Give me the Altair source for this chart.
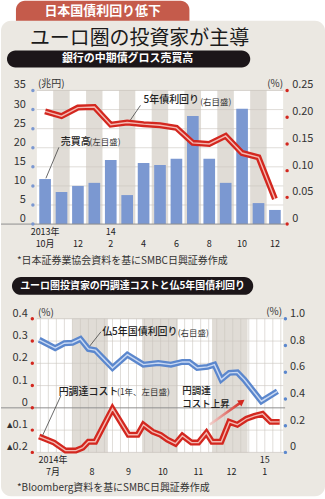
import altair as alt
import pandas as pd

# ---------------- chart 1: monthly, Oct 2013 - Dec 2014
month_idx = list(range(15))
gross_volume = [11.8, 8.4, 10.0, 10.8, 16.8, 7.6, 16.0, 15.5, 17.1, 28.3, 17.1, 10.8, 30.2, 5.5, 3.7]
jgb5_yield = [0.211, 0.202, 0.218, 0.219, 0.186, 0.190, 0.187, 0.185, 0.180, 0.152, 0.150, 0.165, 0.133, 0.125, 0.047]
x1_top = ["2013年", "", "", "", "14", "", "", "", "", "", "", "", "", "", ""]
x1_bottom = ["10月", "", "12", "", "2", "", "4", "", "6", "", "8", "", "10", "", "12"]
ticks1_left = [0, 5, 10, 15, 20, 25, 30, 35]
labels1_left = ["0", "5", "10", "15", "20", "25", "30", "35"]
ticks1_right = [0, 0.05, 0.10, 0.15, 0.20, 0.25]
labels1_right = ["0", "0.05", "0.10", "0.15", "0.20", "0.25"]

# ---------------- chart 2: Jul 2014 - Jan 2015
cost_dates = ["2014-07-03", "2014-07-16", "2014-07-26", "2014-08-04", "2014-08-10", "2014-08-15",
              "2014-08-21", "2014-09-05", "2014-09-19", "2014-09-27", "2014-10-02", "2014-10-10",
              "2014-10-17", "2014-10-23", "2014-10-30", "2014-11-05", "2014-11-13", "2014-11-19",
              "2014-11-26", "2014-12-01", "2014-12-09", "2014-12-16", "2014-12-23", "2014-12-31",
              "2015-01-07", "2015-01-14", "2015-01-21", "2015-01-29"]
yen_cost = [-0.129, -0.156, -0.192, -0.192, -0.179, -0.152, -0.152, -0.004, -0.121, -0.121,
            -0.076, -0.107, -0.121, -0.143, -0.161, -0.125, -0.156, -0.156, -0.112, -0.152,
            -0.152, -0.063, -0.076, -0.049, -0.036, -0.027, -0.063, -0.063]
oat_dates = ["2014-07-03", "2014-07-17", "2014-07-25", "2014-08-01", "2014-08-08", "2014-08-15",
             "2014-08-21", "2014-09-05", "2014-09-18", "2014-10-02", "2014-10-15", "2014-10-26",
             "2014-11-05", "2014-11-11", "2014-11-18", "2014-11-27", "2014-12-03", "2014-12-09",
             "2014-12-16", "2014-12-23", "2014-12-29", "2015-01-13", "2015-01-27"]
fr5_yield = [0.843, 0.781, 0.817, 0.821, 0.849, 0.774, 0.765, 0.632, 0.731, 0.657, 0.669, 0.657,
             0.677, 0.677, 0.632, 0.640, 0.657, 0.545, 0.595, 0.599, 0.545, 0.383, 0.457]
month_starts = ["2014-07-01", "2014-08-01", "2014-09-01", "2014-10-01", "2014-11-01", "2014-12-01", "2015-01-01"]
month_ends = ["2014-08-01", "2014-09-01", "2014-10-01", "2014-11-01", "2014-12-01", "2015-01-01", "2015-02-01"]
x2_dates = ["2014-07-15", "2014-08-18", "2014-09-19", "2014-10-19", "2014-11-19", "2014-12-18", "2015-01-16"]
x2_top = ["2014年", "", "", "", "", "", "15"]
x2_bottom = ["7月", "8", "9", "10", "11", "12", "1"]
ticks2_left = [-0.2, -0.1, 0, 0.1, 0.2, 0.3, 0.4]
labels2_left = ["▴0.2", "▴0.1", "0", "0.1", "0.2", "0.3", "0.4"]
ticks2_right = [0, 0.2, 0.4, 0.6, 0.8, 1.0]
labels2_right = ["0", "0.2", "0.4", "0.6", "0.8", "1.0"]

# ---------------- style
W, H1, H2, GAP = 247, 134, 134, 95
OX, OY = 36, 90
FONT = "Noto Sans CJK JP"
BEIGE = "#ebe8e2"
STRIPE = "#e0dcd6"
GRID = "#cbc6bf"
ZERO = "#8e8e8e"
BAR = "#7b98d1"
RED = "#d3271f"
PINK = "#f4b9b2"
BLUE = "#5b87cd"
LBLUE = "#c9d9f3"
TAB = "#c55b4b"
PILL = "#1c1619"
TXT = "#222222"

BLANK = alt.Axis(labels=False, ticks=False, domain=False, grid=False, title=None)

one = pd.DataFrame({"k": [0]})


def box(x, x2, y, y2, color, **kw):
    return alt.Chart(one).mark_rect(color=color, **kw).encode(
        x=alt.value(x), x2=alt.value(x2), y=alt.value(y), y2=alt.value(y2))


def label(txt, x, y, size, color=TXT, weight="normal", align="left"):
    return alt.Chart(one).mark_text(text=txt, font=FONT, fontSize=size, color=color,
                                    fontWeight=weight, align=align, baseline="middle").encode(
        x=alt.value(x), y=alt.value(y))


def yaxis(ticks, labels, xenc, lpos, dpos, yscale, align, dot):
    """tick labels and round tick dots drawn through the chart's own scales"""
    d = pd.DataFrame({"t": ticks, "s": labels, "lx": [lpos] * len(ticks), "dx": [dpos] * len(ticks)})
    txt = alt.Chart(d).mark_text(font=FONT, fontSize=11, color="#333", align=align,
                                 baseline="middle", dy=-5).encode(
        x=alt.X("lx:" + xenc[0], scale=xenc[1], axis=None),
        y=alt.Y("t:Q", scale=yscale, axis=None), text="s:N")
    dots = alt.Chart(d).mark_point(color=dot, size=12, filled=True, opacity=1).encode(
        x=alt.X("dx:" + xenc[0], scale=xenc[1], axis=None),
        y=alt.Y("t:Q", scale=yscale, axis=None))
    return [txt, dots]


def ax(v):
    return v - OX


def ay(v):
    return v - OY


# ---------------- chart 1
df1 = pd.DataFrame({"i": month_idx, "vol": gross_volume, "yld": jgb5_yield,
                    "top": x1_top, "bot": x1_bottom})
df1["i1"] = df1["i"] + 1
df1["b0"] = df1["i"] + 0.145
df1["b1"] = df1["i"] + 0.855
df1["m"] = df1["i"] + 0.5

xs1 = alt.Scale(domain=[0, 15], nice=False, zero=False)
yl1 = alt.Scale(domain=[0, 35], nice=False, zero=False)
yr1 = alt.Scale(domain=[0, 0.25], nice=False, zero=False)
X1 = ("Q", xs1)

deco = [
    box(ax(0), ax(325), ay(0), ay(499), "white"),
    box(ax(15), ax(189), ay(0), ay(30), TAB, cornerRadiusTopLeft=9, cornerRadiusTopRight=9),
    box(ax(0), ax(325), ay(20), ay(497), BEIGE, cornerRadius=10),
    label("日本国債利回り低下", ax(102), ay(10), 13, "white", "bold", "center"),
    label("ユーロ圏の投資家が主導", ax(29), ay(38), 20, "#1b1b1b"),
    box(ax(6), ax(250), ay(50), ay(67), PILL, cornerRadius=8.5),
    label("銀行の中期債グロス売買高", ax(127), ay(58.5), 11, "white", "bold", "center"),
    label("*日本証券業協会資料を基にSMBC日興証券作成", ax(16), ay(261), 10, "#333"),
    box(ax(11), ax(253), ay(277), ay(295), PILL, cornerRadius=9),
    label("ユーロ圏投資家の円調達コストと仏5年国債利回り", ax(132), ay(286), 10, "white", "bold", "center"),
    label("(兆円)", ax(37), ay(84), 10, "#333"),
    label("(%)", ax(283), ay(84), 10, "#333", align="right"),
]

stripes1 = alt.Chart(df1).mark_rect().encode(
    x=alt.X("i:Q", scale=xs1, axis=None), x2="i1:Q",
    y=alt.value(0), y2=alt.value(H1),
    color=alt.condition("datum.i % 2 == 0", alt.value("white"), alt.value(STRIPE)))
grid1 = alt.Chart(pd.DataFrame({"g": ticks1_left[1:]})).mark_rule(color=GRID, strokeWidth=0.6).encode(
    y=alt.Y("g:Q", scale=yl1, axis=BLANK))
bars1 = alt.Chart(df1).mark_rect(color=BAR).encode(
    x=alt.X("b0:Q", scale=xs1, axis=None), x2="b1:Q",
    y=alt.Y("vol:Q", scale=yl1, axis=BLANK), y2=alt.Y2Datum(0))
zero1 = alt.Chart(one).mark_rule(color=ZERO, strokeWidth=1).encode(
    y=alt.YDatum(0), x=alt.value(-OX), x2=alt.value(W + 2))

ann1_main = pd.DataFrame({"x": [6.50, 1.46], "y": [32.4, 21.5], "t": ["5年債利回り", "売買高"]})
ann1_sub = pd.DataFrame({"x": [9.95, 3.20], "y": [32.1, 21.4], "t": ["(右目盛)", "(左目盛)"]})
lead1 = pd.DataFrame({"x": [6.31, 1.34], "y": [31.1, 20.1], "x2": [5.59, 0.55], "y2": [26.6, 12.0]})

t1a = alt.Chart(ann1_main).mark_text(font=FONT, fontSize=10, fontWeight=500, color=TXT, align="left",
                                     baseline="middle").encode(
    x=alt.X("x:Q", scale=xs1, axis=None), y=alt.Y("y:Q", scale=yl1, axis=None), text="t:N")
t1b = alt.Chart(ann1_sub).mark_text(font=FONT, fontSize=8.5, color="#333", align="left",
                                    baseline="middle").encode(
    x=alt.X("x:Q", scale=xs1, axis=None), y=alt.Y("y:Q", scale=yl1, axis=None), text="t:N")
l1 = alt.Chart(lead1).mark_rule(color="#444", strokeWidth=0.8).encode(
    x=alt.X("x:Q", scale=xs1, axis=None), y=alt.Y("y:Q", scale=yl1, axis=None), x2="x2:Q", y2="y2:Q")
xl1a = alt.Chart(df1).mark_text(font=FONT, fontSize=9, color=TXT, baseline="middle").encode(
    x=alt.X("m:Q", scale=xs1, axis=None), y=alt.value(H1 + 8), text="top:N")
xl1b = alt.Chart(df1).mark_text(font=FONT, fontSize=9, color=TXT, baseline="middle").encode(
    x=alt.X("m:Q", scale=xs1, axis=None), y=alt.value(H1 + 19.5), text="bot:N")

line1o = alt.Chart(df1).mark_line(color=RED, strokeWidth=6).encode(
    x=alt.X("m:Q", scale=xs1, axis=None), y=alt.Y("yld:Q", scale=yr1, axis=BLANK))
line1i = alt.Chart(df1).mark_line(color=PINK, strokeWidth=1.4).encode(
    x=alt.X("m:Q", scale=xs1, axis=None), y=alt.Y("yld:Q", scale=yr1, axis=BLANK))

chart1 = alt.layer(
    *deco,
    alt.layer(grid1, stripes1, grid1, bars1, zero1, l1, t1a, t1b, xl1a, xl1b,
              *yaxis(ticks1_left, labels1_left, X1, -0.67, -0.243, yl1, "right", BAR)),
    alt.layer(line1o, line1i,
              *yaxis(ticks1_right, labels1_right, X1, 15.55, 15.243, yr1, "left", RED)),
).resolve_scale(y="independent").properties(width=W, height=H1)

# ---------------- chart 2
xs2 = alt.Scale(domain=[alt.DateTime(year=2014, month=7, date=1, utc=True),
                        alt.DateTime(year=2015, month=2, date=1, utc=True)], nice=False)
yl2 = alt.Scale(domain=[-0.2, 0.4], nice=False, zero=False)
yr2 = alt.Scale(domain=[0, 1.0], nice=False, zero=False)
X2 = ("T", xs2)

dm = pd.DataFrame({"s": month_starts, "e": month_ends, "p": [i % 2 for i in range(len(month_starts))]})
weeks = pd.DataFrame({"w": pd.date_range("2014-07-04", "2015-01-30", freq="7D").strftime("%Y-%m-%d")})
dc = pd.DataFrame({"d": cost_dates, "v": yen_cost})
do = pd.DataFrame({"d": oat_dates, "v": fr5_yield})
dx2 = pd.DataFrame({"d": x2_dates, "top": x2_top, "bot": x2_bottom})

stripes2 = alt.Chart(dm).mark_rect().encode(
    x=alt.X("s:T", scale=xs2, axis=None), x2="e:T", y=alt.value(0), y2=alt.value(H2),
    color=alt.condition("datum.p == 0", alt.value("white"), alt.value(STRIPE)))
wk2 = alt.Chart(weeks).mark_rule(color=GRID, strokeWidth=0.6).encode(
    x=alt.X("w:T", scale=xs2, axis=None))
grid2 = alt.Chart(pd.DataFrame({"g": [-0.2, -0.1, 0.1, 0.2, 0.3, 0.4]})).mark_rule(
    color=GRID, strokeWidth=0.6).encode(y=alt.Y("g:Q", scale=yl2, axis=BLANK))
zero2 = alt.Chart(one).mark_rule(color=ZERO, strokeWidth=1).encode(
    y=alt.YDatum(0), x=alt.value(-OX), x2=alt.value(W + 2))

cost_o = alt.Chart(dc).mark_line(color=RED, strokeWidth=6).encode(
    x=alt.X("d:T", scale=xs2, axis=None), y=alt.Y("v:Q", scale=yl2, axis=BLANK))
cost_i = alt.Chart(dc).mark_line(color=PINK, strokeWidth=1.4).encode(
    x=alt.X("d:T", scale=xs2, axis=None), y=alt.Y("v:Q", scale=yl2, axis=BLANK))

ann2_main = pd.DataFrame({"d": ["2014-08-27", "2014-07-20"], "v": [0.342, 0.073],
                          "t": ["仏5年国債利回り", "円調達コスト"]})
ann2_two = pd.DataFrame({"d": ["2014-11-05", "2014-11-05"], "v": [0.075, 0.019],
                         "t": ["円調達", "コスト上昇"]})
ann2_sub = pd.DataFrame({"d": ["2014-11-01", "2014-09-09"], "v": [0.337, 0.073],
                         "t": ["(右目盛)", "(1年、左目盛)"]})
lead2 = pd.DataFrame({"d": ["2014-08-26", "2014-07-22"], "v": [0.342, 0.055],
                      "d2": ["2014-08-15", "2014-07-06"], "v2": [0.270, -0.124]})
arrow = pd.DataFrame({"d": ["2014-11-29", "2014-12-27"], "v": [-0.075, 0.028]})

t2a = alt.Chart(ann2_main).mark_text(font=FONT, fontSize=10, fontWeight=500, color=TXT, align="left",
                                     baseline="middle").encode(
    x=alt.X("d:T", scale=xs2, axis=None), y=alt.Y("v:Q", scale=yl2, axis=None), text="t:N")
t2c = alt.Chart(ann2_two).mark_text(font=FONT, fontSize=9.5, fontWeight=500, color=TXT, align="left",
                                    baseline="middle").encode(
    x=alt.X("d:T", scale=xs2, axis=None), y=alt.Y("v:Q", scale=yl2, axis=None), text="t:N")
t2b = alt.Chart(ann2_sub).mark_text(font=FONT, fontSize=8.5, color="#333", align="left",
                                    baseline="middle").encode(
    x=alt.X("d:T", scale=xs2, axis=None), y=alt.Y("v:Q", scale=yl2, axis=None), text="t:N")
l2 = alt.Chart(lead2).mark_rule(color="#444", strokeWidth=0.8).encode(
    x=alt.X("d:T", scale=xs2, axis=None), y=alt.Y("v:Q", scale=yl2, axis=None), x2="d2:T", y2="v2:Q")
grad = {"gradient": "linear", "x1": 0, "y1": 0, "x2": 1, "y2": 0,
        "stops": [{"offset": 0, "color": "#f3d3cf"}, {"offset": 1, "color": RED}]}
arr_l = alt.Chart(arrow).mark_line(stroke=grad, strokeWidth=2.6).encode(
    x=alt.X("d:T", scale=xs2, axis=None), y=alt.Y("v:Q", scale=yl2, axis=None))
arr_h = alt.Chart(arrow).transform_filter("datum.v > 0").mark_point(
    shape="triangle-up", angle=55, filled=True, size=55, color=RED, opacity=1).encode(
    x=alt.X("d:T", scale=xs2, axis=None), y=alt.Y("v:Q", scale=yl2, axis=None))
xl2a = alt.Chart(dx2).mark_text(font=FONT, fontSize=9, color=TXT, baseline="middle").encode(
    x=alt.X("d:T", scale=xs2, axis=None), y=alt.value(H2 + 8), text="top:N")
xl2b = alt.Chart(dx2).mark_text(font=FONT, fontSize=9, color=TXT, baseline="middle").encode(
    x=alt.X("d:T", scale=xs2, axis=None), y=alt.value(H2 + 19.5), text="bot:N")

oat_o = alt.Chart(do).mark_line(color=BLUE, strokeWidth=6).encode(
    x=alt.X("d:T", scale=xs2, axis=None), y=alt.Y("v:Q", scale=yr2, axis=BLANK))
oat_i = alt.Chart(do).mark_line(color=LBLUE, strokeWidth=1.4).encode(
    x=alt.X("d:T", scale=xs2, axis=None), y=alt.Y("v:Q", scale=yr2, axis=BLANK))

deco2 = [
    label("(%)", 1, -6, 10, "#333"),
    label("(%)", W - 1, -7, 10, "#333", align="right"),
    label("*Bloomberg資料を基にSMBC日興証券作成", -20, H2 + 36, 10, "#333"),
]

chart2 = alt.layer(
    *deco2,
    alt.layer(grid2, stripes2, wk2, grid2, zero2, cost_o, cost_i, l2, t2a, t2c, t2b, arr_l, arr_h,
              xl2a, xl2b,
              *yaxis(ticks2_left, labels2_left, X2, "2014-06-23", "2014-06-27", yl2, "right", RED)),
    alt.layer(oat_o, oat_i,
              *yaxis(ticks2_right, labels2_right, X2, "2015-02-07", "2015-02-03", yr2, "left", BLUE)),
).resolve_scale(y="independent").properties(width=W, height=H2)

chart = alt.vconcat(chart1, chart2, spacing=GAP, bounds="flush").properties(
    padding=0, autosize=alt.AutoSizeParams(type="pad"), background="white"
).configure_view(strokeWidth=0)

chart.save("out.html", embed_options={"renderer": "svg", "actions": False})
